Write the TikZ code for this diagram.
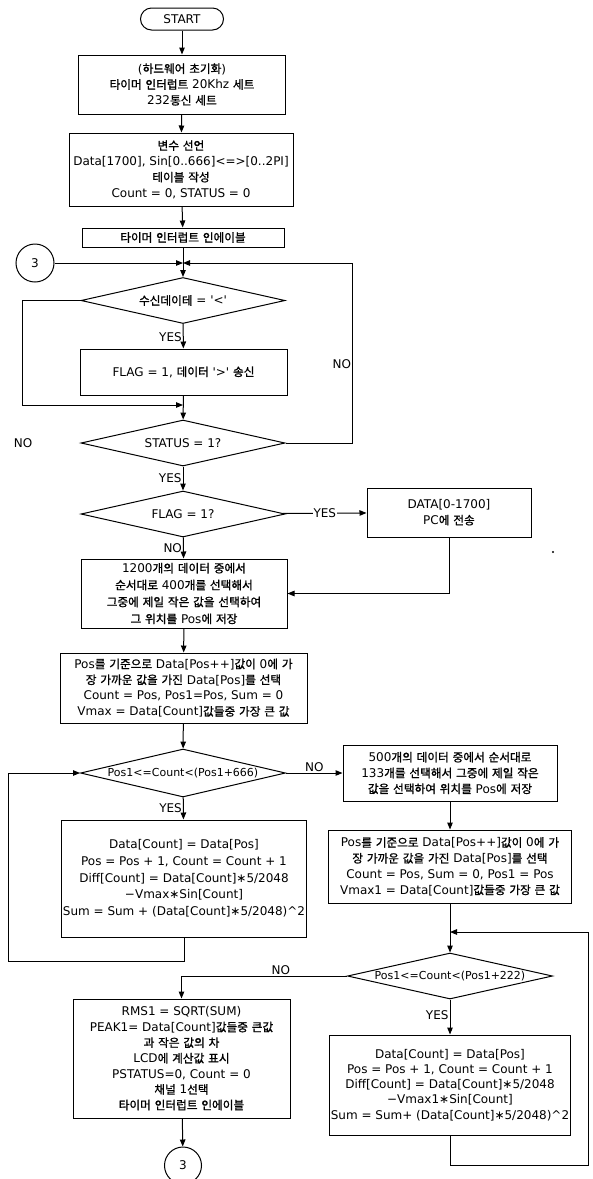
\documentclass[tikz,border=0pt]{standalone}
\usepackage{fontspec}
\setmainfont{DejaVu Sans}
\newfontfamily\krfont[Scale=0.97,FakeBold=1.2]{Noto Sans CJK KR}
\usepackage{tikz}
\usetikzlibrary{positioning,shapes.geometric,arrows.meta}

\XeTeXinterchartokenstate=1
\newXeTeXintercharclass\krclass
\count255="AC00
\loop
  \XeTeXcharclass\count255=\krclass
  \advance\count255 by 1
\ifnum\count255<"D7A4 \repeat
\XeTeXinterchartoks 0 \krclass = {\krfont}
\XeTeXinterchartoks 4095 \krclass = {\krfont}
\XeTeXinterchartoks \krclass 0 = {\normalfont}
\XeTeXinterchartoks \krclass 4095 = {\normalfont}

\begin{document}
\begin{tikzpicture}[x=1pt, y=-1pt, line width=1pt,
    >={Triangle[length=7pt,width=5.5pt]},
    every node/.style={font=\fontsize{12}{15.8}\selectfont},
    proc/.style={draw, rectangle, align=center, inner sep=1pt},
    dec/.style={draw, diamond, aspect=4.4, inner sep=0pt, minimum width=204pt, minimum height=46pt},
    term/.style={draw, rounded corners=11pt, minimum width=83pt, minimum height=22pt, inner sep=0pt},
    conn/.style={draw, circle, minimum size=38pt, inner sep=0pt},
    lbl/.style={inner sep=1pt}]
      \path[use as bounding box, fill=white] (0,0) rectangle (593,1179);

      \node[term] (start) at (182,19) {START};
      \node[proc, minimum width=207pt, minimum height=59pt] (hw) at (182,84.5)
        {(하드웨어 초기화)\\타이머 인터럽트 20Khz 세트\\232통신 세트};
      \node[proc, minimum width=224pt, minimum height=73pt] (var) at (181,169.5)
        {변수 선언\\Data[1700], Sin[0..666]<=>[0..2PI]\\테이블 작성\\Count = 0, STATUS = 0};
      \node[proc, minimum width=202pt, minimum height=19pt] (tint) at (183,237.5) {타이머 인터럽트 인에이블};
      \node[conn] (c3a) at (35,263) {3};
      \coordinate (m1) at (183,263);
      \node[dec] (rx) at (183,300.5) {수신데이테 = \textquotesingle<\textquotesingle};
      \node[proc, minimum width=207pt, minimum height=46pt] (ack) at (183.5,372)
        {FLAG = 1, 데이터 \textquotesingle>\textquotesingle{} 송신};
      \coordinate (m2) at (183,405);
      \node[dec] (stat) at (183,443) {STATUS = 1?};
      \node[dec] (flag) at (183,514) {FLAG = 1?};
      \node[proc, minimum width=164pt, minimum height=49pt] (pc) at (449,512.5) {DATA[0-1700]\\PC에 전송};
      \node[proc, minimum width=206pt, minimum height=69pt, font=\fontsize{12}{16.9}\selectfont] (sel1) at (184,593.5)
        {1200개의 데이터 중에서\\순서대로 400개를 선택해서\\그중에 제일 작은 값을 선택하여\\그 위치를 Pos에 저장};
      \node[proc, minimum width=247pt, minimum height=70pt] (posa) at (183.5,688)
        {Pos를 기준으로 Data[Pos++]값이 0에 가\\장 가까운 값을 가진 Data[Pos]를 선택\\Count = Pos, Pos1=Pos, Sum = 0\\Vmax = Data[Count]값들중 가장 큰 값};
      \node[dec, minimum width=205pt, minimum height=48pt, font=\fontsize{11}{14}\selectfont] (lpa) at (183,773)
        {Pos1<=Count<(Pos1+666)};
      \node[proc, minimum width=245pt, minimum height=117pt, font=\fontsize{12}{16.7}\selectfont] (cala) at (184,878.5)
        {Data[Count] = Data[Pos]\\Pos = Pos + 1, Count = Count + 1\\Diff[Count] = Data[Count]∗5/2048\\−Vmax∗Sin[Count]\\Sum = Sum + (Data[Count]∗5/2048)\textasciicircum 2};
      \node[proc, minimum width=214pt, minimum height=56pt] (sel2) at (450,773)
        {500개의 데이터 중에서 순서대로\\133개를 선택해서 그중에 제일 작은\\값을 선택하여 위치를 Pos에 저장};
      \node[proc, minimum width=243pt, minimum height=73pt] (posb) at (450,866.5)
        {Pos를 기준으로 Data[Pos++]값이 0에 가\\장 가까운 값을 가진 Data[Pos]를 선택\\Count = Pos, Sum = 0, Pos1 = Pos\\Vmax1 = Data[Count]값들중 가장 큰 값};
      \coordinate (m3) at (450,932);
      \node[dec, minimum width=205pt, font=\fontsize{11}{14}\selectfont] (lpb) at (450,976)
        {Pos1<=Count<(Pos1+222)};
      \node[proc, minimum width=240pt, minimum height=100pt, font=\fontsize{12}{15.2}\selectfont] (calb) at (450,1085)
        {Data[Count] = Data[Pos]\\Pos = Pos + 1, Count = Count + 1\\Diff[Count] = Data[Count]∗5/2048\\−Vmax1∗Sin[Count]\\Sum = Sum+ (Data[Count]∗5/2048)\textasciicircum 2};
      \node[proc, minimum width=217pt, minimum height=119pt, font=\fontsize{12}{15.6}\selectfont] (rms) at (181.5,1058.5)
        {RMS1 = SQRT(SUM)\\PEAK1= Data[Count]값들중 큰값\\과 작은 값의 차\\LCD에 계산값 표시\\PSTATUS=0, Count = 0\\채널 1선택\\타이머 인터럽트 인에이블};
      \node[conn, minimum size=37pt] (c3b) at (183,1165.5) {3};
      \node[lbl] (nostray) at (23,443) {NO};
      \fill (553,552) circle (1.2pt);

      \draw[->] (start) -- (hw);
      \draw[->] (hw) -- (var);
      \draw[->] (var) -- (tint);
      \draw[->] (tint) -- (rx);
      \draw[->] (c3a) -- (m1);
      \draw[->] (rx) -- node[lbl, left, pos=0.55] {YES} (ack);
      \draw[->] (rx.west) -- ++(-58,0) |- (m2);
      \draw[->] (ack) -- (stat);
      \draw[->] (stat.east) -- ++(67,0) |- node[lbl, left, pos=0.22] {NO} (m1);
      \draw[->] (stat) -- node[lbl, left] {YES} (flag);
      \draw[->] (flag) -- node[lbl, fill=white] {YES} (pc);
      \draw[->] (flag) -- node[lbl, left] {NO} (sel1);
      \draw[->] (pc) |- (sel1);
      \draw[->] (sel1) -- (posa);
      \draw[->] (posa) -- (lpa);
      \draw[->] (lpa) -- node[lbl, left] {YES} (cala);
      \draw[->] (cala.south) -- ++(0,24) -| ([xshift=-71.5pt]lpa.west) -- (lpa.west);
      \draw[->] (lpa) -- node[lbl, above] {NO} (sel2);
      \draw[->] (sel2) -- (posb);
      \draw[->] (posb) -- (lpb);
      \draw[->] (lpb) -- node[lbl, left, pos=0.45] {YES} (calb);
      \draw[->] (calb.south) -- ++(0,30) -| ([xshift=138pt]m3) -- (m3);
      \draw[->] (lpb.west) -- node[lbl, above, pos=0.4] {NO} (lpb.west -| rms.north) -- (rms.north);
      \draw[->] (rms) -- (c3b);
    \end{tikzpicture}
\end{document}
